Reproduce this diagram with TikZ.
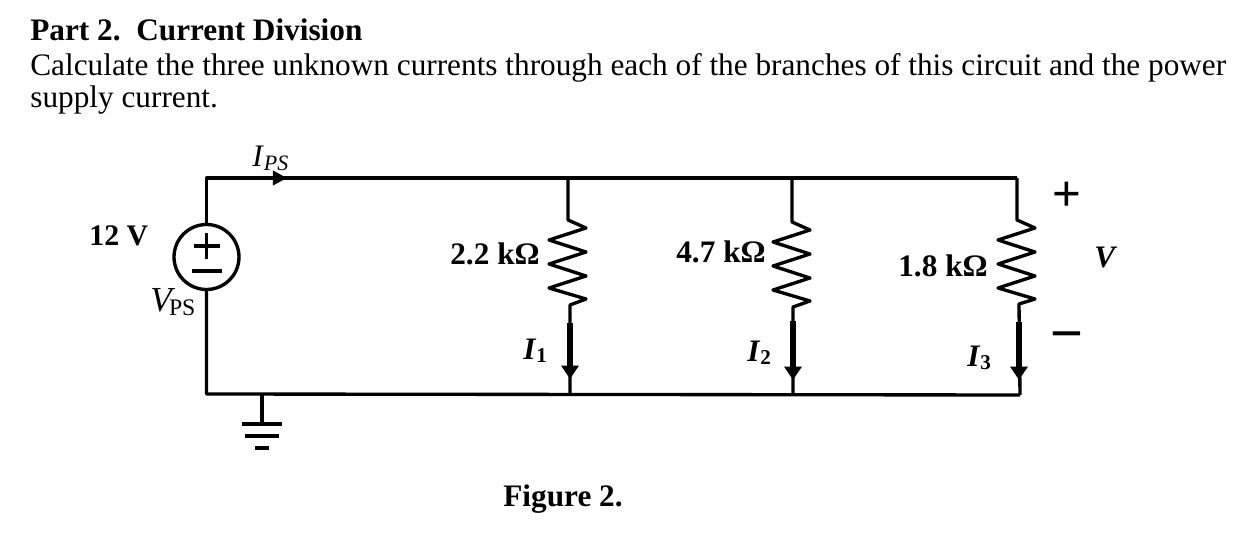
\documentclass[tikz,border=0pt]{standalone}
\usepackage{fontspec}
\setmainfont{Liberation Serif}
\newfontfamily\signfont{Liberation Sans}
\usetikzlibrary{arrows.meta}
\newcommand{\subsize}{\fontsize{12}{14}\selectfont}
\tikzset{
  wire/.style={line width=1.9pt, line join=round},
  currentarrow/.style={line width=2.9pt, -{Triangle[length=7.6pt,width=9.6pt]}},
  txt/.style={anchor=base west, inner sep=0pt, font=\fontsize{17.8}{20}\selectfont},
  plussign/.style={inner sep=0pt, font=\signfont\fontsize{28}{28}\selectfont},
  minussign/.style={inner sep=0pt, font=\signfont\fontsize{32}{32}\selectfont},
}
\begin{document}
\begin{tikzpicture}[x=0.02cm,y=-0.02cm]
    \useasboundingbox (0,0) rectangle (1254,536);

    % Question text
    \node[txt] (title) at (30,41) {\textbf{Part 2.\ \ Current Division}};
    \node[txt] (line1) at (30,76) {Calculate the three unknown currents through each of the branches of this circuit and the power};
    \node[txt] (line2) at (30,108) {supply current.};
    \node[txt] (figlabel) at (503,507) {\textbf{Figure 2.}};

    % Corners and junctions
    \coordinate (tl) at (206.5,178);
    \coordinate (bl) at (206.5,394);
    \coordinate (tr) at (1017,178);
    \coordinate (br) at (1020,395);
    \coordinate (ja) at (568,178);
    \coordinate (jb) at (792,178);
    \coordinate (ka) at (570,394);
    \coordinate (kb) at (793,394);
    \coordinate (gnd) at (262,394);
    \coordinate (arrowtip) at (287,178);

    % Source
    \node[circle, draw, line width=1.9pt, minimum size=1.3cm, inner sep=0pt] (vs) at (206.5,257) {};
    \draw[wire] (vs.center) ++(-13,-11) -- ++(26,0);
    \draw[wire] (vs.center) ++(0,-24) -- ++(0,26);
    \draw[wire] (vs.center) ++(-15,14) -- ++(30,0);
    \draw[wire] (vs.north) -- (tl) -- (tr);
    \draw[wire] (vs.south) -- (bl) -- (br);
    \draw[-{Triangle[length=8pt,width=8pt]}, wire] (tl) -- (arrowtip);

    % Ground
    \coordinate (gbar) at (262,424);
    \draw[wire] (gnd) -- (gbar);
    \draw[wire] (gbar) ++(-20,0) -- ++(40,0);
    \draw[wire] (gbar) ++(-17,12) -- ++(34,0);
    \draw[wire] (gbar) ++(-7,24) -- ++(14,0);

    % Resistor branches
    \foreach \nm/\up/\sx/\sy/\ex/\ey/\dn/\tx/\ty/\ttip in {
        a/ja/568/220/570/305/ka/570/323/379,
        b/jb/792/222/793/307/kb/793/321/380,
        c/tr/1017/220/1019/304/br/1019/322/380} {
      \coordinate (s\nm) at (\sx,\sy);
      \coordinate (e\nm) at (\ex,\ey);
      \coordinate (t\nm) at (\tx,\ty);
      \coordinate (h\nm) at (\tx,\ttip);
      \draw[wire] (\up) -- (s\nm) -- ++(18,8) -- ++(-37,12) -- ++(37,12) -- ++(-37,12)
          -- ++(37,12) -- ++(-37,12) -- ++(37,11) -- (e\nm) -- (\dn);
      \draw[currentarrow] (t\nm) -- (h\nm);
    }

    % Labels
    \node[txt] (vlabel) at (89,246) {\fontsize{17}{20}\selectfont\textbf{12 V}};
    \node[txt] (vps) at (150,312) {\fontsize{20}{22}\selectfont\textit{V}\kern-3.5pt\raisebox{-2.2pt}{\fontsize{13.5}{15}\selectfont PS}};
    \node[txt] (ips) at (252,167) {\textit{I}\raisebox{-2.2pt}{\fontsize{12.5}{14}\selectfont\textit{PS}}};
    \node[txt] (ra) at (450,265) {\textbf{2.2 k\char"03A9}};
    \node[txt] (rb) at (676,263) {\textbf{4.7 k\char"03A9}};
    \node[txt] (rc) at (898,277) {\textbf{1.8 k\char"03A9}};
    \node[txt] (ia) at (523,360) {\textbf{\textit{I}}\raisebox{-1.7pt}{\subsize\textbf{1}}};
    \node[txt] (ib) at (747,362) {\textbf{\textit{I}}\raisebox{-1.7pt}{\subsize\textbf{2}}};
    \node[txt] (ic) at (967,367) {\textbf{\textit{I}}\raisebox{-1.7pt}{\subsize\textbf{3}}};
    \node[txt] (vout) at (1094,268) {\textbf{\textit{V}}};
    \node[plussign] (vplus) at (1067,196) {+};
    \node[minussign] (vminus) at (1067,342) {\char"2212};
\end{tikzpicture}
\end{document}
